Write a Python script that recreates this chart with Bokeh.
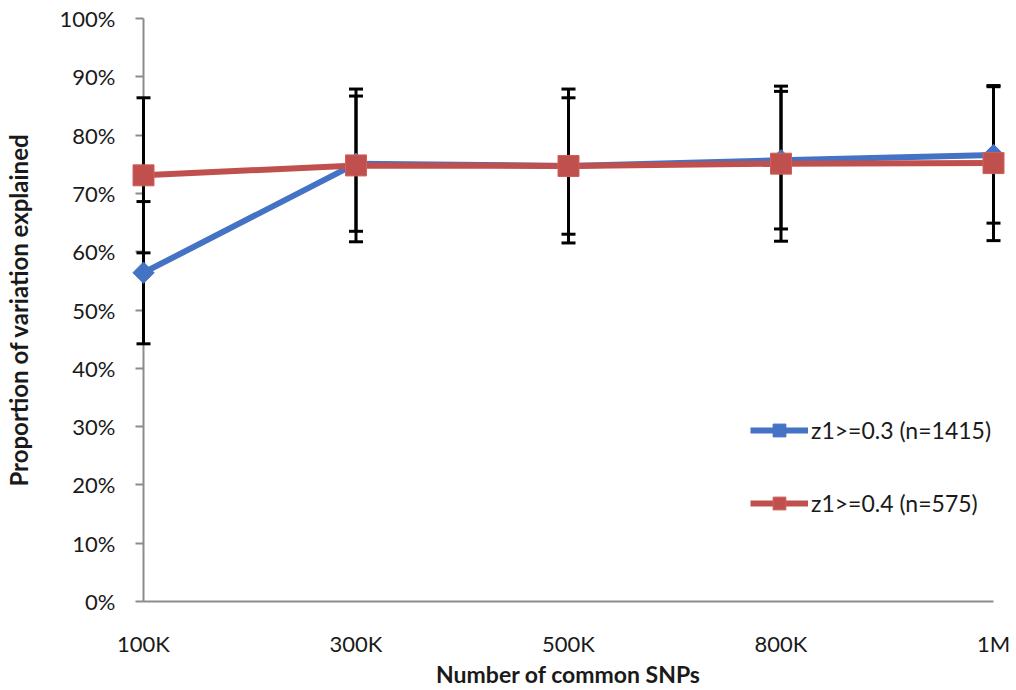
import numpy as np
from bokeh.plotting import figure
from bokeh.models import (ColumnDataSource, FixedTicker, NumeralTickFormatter,
                          Range1d, Legend, LegendItem)
from bokeh.embed import file_html
from bokeh.resources import INLINE

categories = ["100K", "300K", "500K", "800K", "1M"]
blue_vals = [0.564, 0.751, 0.747, 0.757, 0.766]
blue_err = [0.122, 0.116, 0.117, 0.118, 0.117]
red_vals = [0.731, 0.748, 0.747, 0.751, 0.752]
red_err = [0.133, 0.131, 0.132, 0.133, 0.133]
blue_label = "z1>=0.3 (n=1415)"
red_label = "z1>=0.4 (n=575)"
y_ticks = [0.0, 0.1, 0.2, 0.3, 0.4, 0.5, 0.6, 0.7, 0.8, 0.9, 1.0]

BLUE = "#4472C4"
RED = "#C0504D"
FONT = "Lato"
TXT = "#1a1a1a"

xs = list(range(len(categories)))

src_b = ColumnDataSource(dict(x=xs, y=blue_vals,
                              lo=[v - e for v, e in zip(blue_vals, blue_err)],
                              hi=[v + e for v, e in zip(blue_vals, blue_err)]))
src_r = ColumnDataSource(dict(x=xs, y=red_vals,
                              lo=[v - e for v, e in zip(red_vals, red_err)],
                              hi=[v + e for v, e in zip(red_vals, red_err)]))

p = figure(width=1016, height=690, output_backend="svg", toolbar_location=None,
           x_range=Range1d(xs[0], xs[-1]), y_range=Range1d(0, 1),
           min_border_left=143, min_border_right=23, min_border_top=18,
           min_border_bottom=87)
p.outline_line_color = None
p.grid.visible = False
p.background_fill_color = "white"
p.border_fill_color = "white"

# error bars (drawn first, below lines and markers)
for src in (src_r, src_b):
    p.segment(x0="x", y0="lo", x1="x", y1="hi", source=src, line_color="black",
              line_width=3, level="overlay")
    p.scatter("x", "hi", source=src, marker="dash", size=14, line_color="black",
              line_width=3, level="overlay")
    p.scatter("x", "lo", source=src, marker="dash", size=14, line_color="black",
              line_width=3, level="overlay")

lb = p.line("x", "y", source=src_b, line_color=BLUE, line_width=6, level="overlay")
mb = p.scatter("x", "y", source=src_b, marker="square", angle=np.pi / 4, size=15,
               fill_color=BLUE, line_color=BLUE, level="overlay")
lr = p.line("x", "y", source=src_r, line_color=RED, line_width=6, level="overlay")
mr = p.scatter("x", "y", source=src_r, marker="square", size=21,
               fill_color=RED, line_color="#d0605c", line_width=1, level="overlay")

legend = Legend(items=[LegendItem(label=blue_label, renderers=[lb, mb]),
                       LegendItem(label=red_label, renderers=[lr, mr])],
                location=(607, 82), glyph_width=58, glyph_height=32,
                label_text_font=FONT, label_text_font_size="23px",
                label_text_color=TXT, label_standoff=3, spacing=41,
                padding=0, margin=0, background_fill_alpha=0,
                border_line_color=None)
p.add_layout(legend)

# axes
p.xaxis.ticker = FixedTicker(ticks=xs)
p.xaxis.major_label_overrides = {i: c for i, c in zip(xs, categories)}
p.xaxis.major_tick_line_color = None
p.xaxis.minor_tick_line_color = None
p.xaxis.axis_line_color = "#8c8c8c"
p.xaxis.axis_line_width = 2
p.xaxis.major_label_standoff = 22
p.xaxis.axis_label = "Number of common SNPs"
p.xaxis.axis_label_standoff = 0

p.yaxis.ticker = FixedTicker(ticks=y_ticks)
p.yaxis.formatter = NumeralTickFormatter(format="0%")
p.yaxis.minor_tick_line_color = None
p.yaxis.major_tick_in = 0
p.yaxis.major_tick_out = 8
p.yaxis.major_tick_line_color = "#8c8c8c"
p.yaxis.major_tick_line_width = 2
p.yaxis.axis_line_color = "#8c8c8c"
p.yaxis.axis_line_width = 2
p.yaxis.major_label_standoff = 20
p.yaxis.axis_label = "Proportion of variation explained"
p.yaxis.axis_label_standoff = 24

for ax in (p.xaxis, p.yaxis):
    ax.major_label_text_font = FONT
    ax.major_label_text_font_size = "22px"
    ax.major_label_text_color = TXT
    ax.axis_label_text_font = FONT
    ax.axis_label_text_font_size = "23px"
    ax.axis_label_text_font_style = "bold"
    ax.axis_label_text_color = TXT
p.yaxis.axis_label_text_font_size = "24px"

open("out.html", "w").write(file_html(p, INLINE))
